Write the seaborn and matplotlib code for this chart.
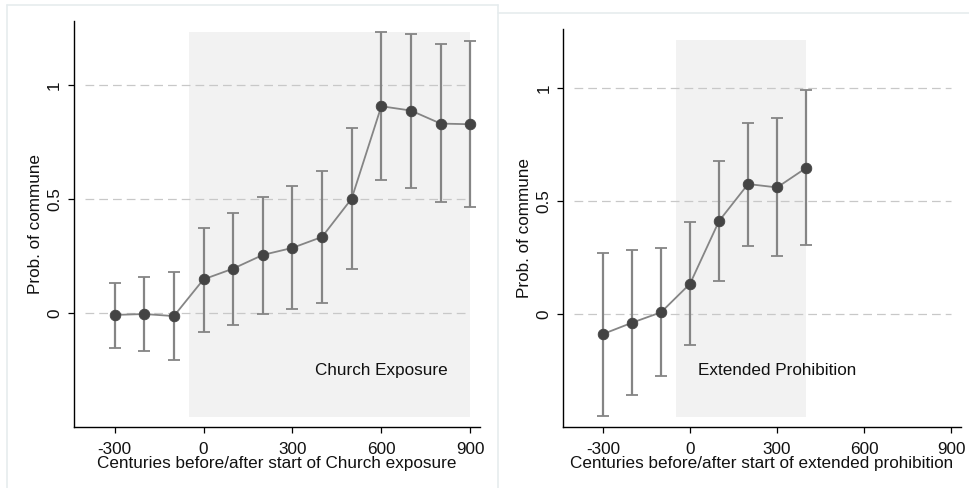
import numpy as np
import pandas as pd
import matplotlib.pyplot as plt
import seaborn as sns
from matplotlib.lines import Line2D

sns.set_theme(style="white")
plt.rcParams["font.family"] = ["Liberation Sans", "DejaVu Sans"]

# ---- data: Church exposure
church_t = [-300, -200, -100, 0, 100, 200, 300, 400, 500, 600, 700, 800, 900]
church_b = [-0.007, -0.003, -0.012, 0.149, 0.196, 0.256, 0.287, 0.335, 0.503, 0.908, 0.889, 0.832, 0.829]
church_hi = [0.134, 0.161, 0.180, 0.376, 0.442, 0.512, 0.557, 0.626, 0.814, 1.234, 1.225, 1.180, 1.193]
church_lo = [-0.151, -0.165, -0.205, -0.082, -0.051, -0.001, 0.018, 0.047, 0.194, 0.585, 0.551, 0.487, 0.465]

# ---- data: extended prohibition
prohib_t = [-300, -200, -100, 0, 100, 200, 300, 400]
prohib_b = [-0.087, -0.037, 0.009, 0.135, 0.412, 0.575, 0.560, 0.646]
prohib_hi = [0.272, 0.282, 0.291, 0.406, 0.675, 0.846, 0.865, 0.988]
prohib_lo = [-0.447, -0.356, -0.271, -0.135, 0.149, 0.303, 0.259, 0.304]

xticks = [-300, 0, 300, 600, 900]
yticks = [0, 0.5, 1]
ytick_labels = ["0", "0.5", "1"]

LINE = "#858585"
DOT = "#444444"
FS = 12.3


def panel(ax, t, b, lo, hi, shade, shade_y, ylim, label, label_y, xlabel):
    ax.axvspan(shade[0], shade[1], ymin=(shade_y[0] - ylim[0]) / (ylim[1] - ylim[0]),
               ymax=(shade_y[1] - ylim[0]) / (ylim[1] - ylim[0]),
               color="#f2f2f2", lw=0, zorder=0)
    ax.hlines(yticks, -400, 900, colors="#c8c8c8", linestyles=(0, (7, 4)), lw=0.9, zorder=1)
    df = pd.DataFrame({"t": t, "b": b, "lo": lo, "hi": hi})
    ax.errorbar(df["t"], df["b"], yerr=[df["b"] - df["lo"], df["hi"] - df["b"]],
                fmt="none", ecolor=LINE, elinewidth=1.6, capsize=4.5, capthick=1.3, zorder=2)
    sns.lineplot(data=df, x="t", y="b", ax=ax, color=LINE, lw=1.3, zorder=3)
    sns.scatterplot(data=df, x="t", y="b", ax=ax, color=DOT, s=58, edgecolor=DOT, zorder=4)
    ax.text(label[0], label_y, label[1], ha="center", va="center", fontsize=FS, color="#111111")
    ax.set_xlim(-437, 933)
    ax.set_ylim(*ylim)
    ax.set_xticks(xticks)
    ax.set_xticklabels([str(v) for v in xticks])
    ax.set_yticks(yticks)
    ax.set_yticklabels(ytick_labels, rotation=90, va="center")
    ax.set_xlabel(xlabel, fontsize=FS, labelpad=-1, color="#111111")
    ax.set_ylabel("Prob. of commune", fontsize=FS, labelpad=3, color="#111111")
    ax.tick_params(axis="both", which="both", length=4.5, width=0.9, color="black",
                   labelsize=FS, labelcolor="#111111", direction="out",
                   bottom=True, left=True)
    ax.tick_params(axis="x", pad=6.5)
    ax.tick_params(axis="y", pad=4)
    for s in ["top", "right"]:
        ax.spines[s].set_visible(False)
    for s in ["left", "bottom"]:
        ax.spines[s].set_color("black")
        ax.spines[s].set_linewidth(1.0)
    ax.set_facecolor("white")


fig = plt.figure(figsize=(9.69, 4.88), dpi=100)

# faint outer borders of the two combined graphs
bc = "#e6ecee"
fig.add_artist(Line2D([7 / 969, 498 / 969], [1 - 5 / 488, 1 - 5 / 488], color=bc, lw=1.2))
fig.add_artist(Line2D([7 / 969, 7 / 969], [0, 1 - 5 / 488], color=bc, lw=1.2))
fig.add_artist(Line2D([498 / 969, 498 / 969], [0, 1 - 5 / 488], color=bc, lw=1.2))
fig.add_artist(Line2D([498 / 969, 1], [1 - 13 / 488, 1 - 13 / 488], color=bc, lw=1.2))

ax1 = fig.add_axes([74 / 969, 61.3 / 488, 406 / 969, 406 / 488])
panel(ax1, church_t, church_b, church_lo, church_hi, (-50, 900), (-0.453, 1.234),
      (-0.497, 1.283), (601, "Church Exposure"), -0.25,
      "Centuries before/after start of Church exposure")

ax2 = fig.add_axes([563.3 / 969, 61.3 / 488, 397.4 / 969, 397.4 / 488])
panel(ax2, prohib_t, prohib_b, prohib_lo, prohib_hi, (-50, 400), (-0.452, 1.21),
      (-0.496, 1.258), (300, "Extended Prohibition"), -0.25,
      "Centuries before/after start of extended prohibition")

fig.savefig("out.png", dpi=100, facecolor="white")
